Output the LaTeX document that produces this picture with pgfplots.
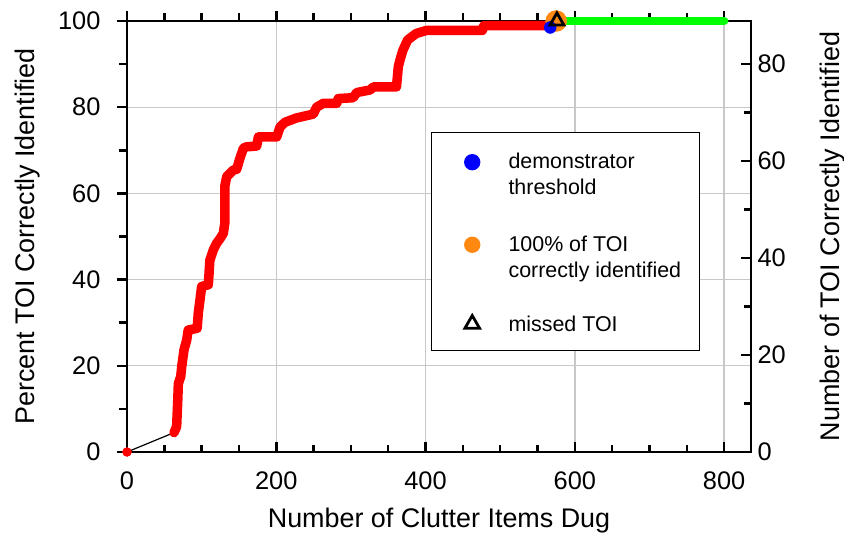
\documentclass[border=0pt]{standalone}
\usepackage{fontspec}
\setmainfont{Liberation Sans}
\usepackage{pgfplots}
\pgfplotsset{compat=1.18}
\definecolor{gridgray}{RGB}{200,200,200}
\definecolor{myorange}{RGB}{255,136,17}
\definecolor{mygreen}{RGB}{0,255,0}
\definecolor{myred}{RGB}{255,0,0}
\definecolor{myblue}{RGB}{0,0,255}
\pgfplotsset{
  base/.style={
    scale only axis, width=624bp, height=431bp,
    xmin=0, xmax=836, ymin=0, ymax=100,
    /pgf/number format/assume math mode=true,
    tick label style={font=\fontsize{25.5}{30}\selectfont},
    label style={font=\fontsize{27}{32}\selectfont},
    axis line style={line width=2.7bp, black, line cap=rect},
    tick style={line width=2.5bp, black},
    major tick length=10bp, minor tick length=7.5bp,
  },
}
\begin{document}
\begin{tikzpicture}
% grid only
\begin{axis}[base, name=main, xtick={200,400,600,800}, ytick={20,40,60,80},
  xticklabels={}, yticklabels={}, major tick length=0pt, tick style={draw=none},
  axis line style={draw=none},
  xmajorgrids, ymajorgrids, grid style={gridgray, line width=1.3bp}]
\end{axis}
% left y axis
\begin{axis}[base, axis y line*=left, axis x line=none, xtick=\empty, tick align=outside,
  ytick={0,20,...,100}, minor y tick num=1,
  ylabel={Percent TOI Correctly Identified},
  ylabel style={at={(axis description cs:-0.159,0.5)}, anchor=center},
  yticklabel style={xshift=-13bp}]
\end{axis}
% bottom x axis
\begin{axis}[base, axis x line*=bottom, axis y line=none, ytick=\empty, tick align=inside,
  xtick={0,200,...,800}, minor x tick num=3,
  xlabel={Number of Clutter Items Dug},
  xlabel style={at={(axis description cs:0.5,-0.16)}, anchor=center},
  xticklabel style={yshift=-16bp}]
\end{axis}
% top x axis
\begin{axis}[base, axis x line*=top, axis y line=none, ytick=\empty, tick align=outside,
  xtick={0,200,...,800}, minor x tick num=3, xticklabels={}]
\end{axis}
% right y axis
\begin{axis}[base, ymax=88.9, axis y line*=right, axis x line=none, xtick=\empty, tick align=inside,
  ytick={0,20,...,80}, minor y tick num=1,
  yticklabel style={xshift=3bp},
  ylabel={Number of TOI Correctly Identified},
  ylabel style={at={(axis description cs:1.131,0.5)}, anchor=center}]
\end{axis}
% data
\begin{axis}[base, hide axis, clip=false,
  legend style={at={(0.487,0.743)}, anchor=north west, draw=black, line width=1.3bp, fill=white,
    font=\fontsize{21.5}{26}\selectfont, inner xsep=16bp, inner ysep=1bp,
    row sep=16bp, column sep=25.8bp, nodes={inner ysep=17bp}},
  legend image code/.code={\path[draw=none,fill=none] (-16.2bp,0bp) -- (0.6cm,0bp);
    \draw[mark repeat=2,mark phase=2,#1] plot coordinates {(0cm,0cm) (0.3cm,0cm) (0.6cm,0cm)};},
  legend cell align=left]
\addplot[black, line width=1.2bp, forget plot] coordinates {(0,0) (63,4.5)};
\addplot[only marks, mark=*, mark size=4.5bp, myred, forget plot] coordinates {(0,0)};
\addplot[myred, line width=9.5bp, line join=round, line cap=round, forget plot] coordinates {
(63,4.5) (66.5,5.9) (68,12) (68.8,15.9) (72,17.5) (73.3,19.8) (76.4,23.7) (80,26)
(82,28.3) (94,28.7) (95.5,32.2) (97.8,35.3) (100,38.4) (109,38.8) (111,44.5)
(115.7,46.9) (120,48.4) (124.6,49.5) (129,50.7) (131,53) (131,61.6) (133.6,63.9)
(142.4,65.4) (147,65.6) (151,68) (156,70.5) (160,70.8) (173.8,71) (176,73.1)
(200.6,73.1) (205,75.4) (211.7,76.5) (227,77.5) (249.6,78.4) (254,80) (263,80.9)
(281,80.9) (283,82) (303,82.2) (307.8,83.4) (325.6,84) (330,84.7) (361,84.7)
(363.5,89.4) (365.8,91) (369.6,93.2) (376,95.6) (387.5,97.1) (401,97.8) (476,97.8)
(478,98.9) (567,98.9)};
\addplot[mygreen, line width=8.5bp, line cap=round, forget plot] coordinates {(580,100) (800,100)};
\addplot[only marks, mark=*, mark size=10.5bp, myorange, forget plot] coordinates {(575,100)};
\addplot[only marks, mark=*, mark size=6bp, myblue, forget plot] coordinates {(567,98.5)};
\addplot[only marks, mark=triangle, mark size=8bp, mark options={line width=2.8bp}, black, forget plot] coordinates {(576,100)};
\addlegendimage{only marks, mark=*, mark size=7.5bp, myblue, yshift=4.5bp}
\addlegendentry{\begin{tabular}{@{}l@{}}demonstrator\\threshold\end{tabular}}
\addlegendimage{only marks, mark=*, mark size=7.5bp, myorange, yshift=4.5bp}
\addlegendentry{\begin{tabular}{@{}l@{}}100\% of TOI\\correctly identified\end{tabular}}
\addlegendimage{only marks, mark=triangle, mark size=8.5bp, mark options={line width=2.8bp}, black}
\addlegendentry{missed TOI}
\end{axis}
\pgfresetboundingbox
\path ([shift={(-127bp,-81bp)}]main.south west) rectangle ([shift={(93bp,21bp)}]main.north east);
\end{tikzpicture}
\end{document}
